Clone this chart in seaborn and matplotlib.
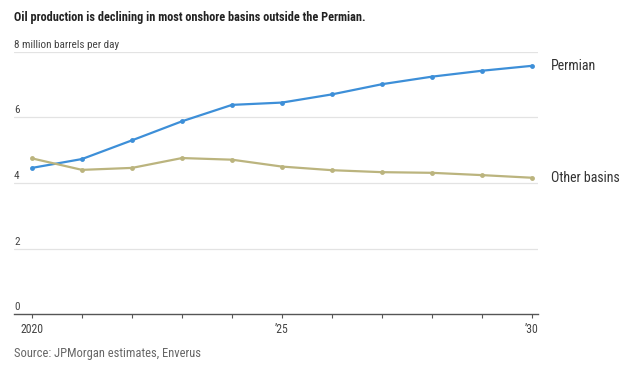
import pandas as pd
import matplotlib.pyplot as plt
import matplotlib.transforms as mtransforms
import seaborn as sns

years = list(range(2020, 2031))
permian = [4.46, 4.73, 5.30, 5.88, 6.38, 6.45, 6.70, 7.01, 7.24, 7.42, 7.57]
other_basins = [4.75, 4.40, 4.46, 4.76, 4.71, 4.50, 4.39, 4.33, 4.31, 4.24, 4.16]
series_names = ['Permian', 'Other basins']
y_ticks = [0, 2, 4, 6, 8]
y_labels = ['0', '2', '4', '6', '8 million barrels per day']
x_ticks = [2020, 2025, 2030]
x_labels = ['2020', '\u201925', '\u201930']

colors = {'Permian': '#3d8fd8', 'Other basins': '#bbb47e'}

df = pd.DataFrame({
    'year': years * 2,
    'value': permian + other_basins,
    'series': [series_names[0]] * len(years) + [series_names[1]] * len(years),
})

sns.set_style('white')
plt.rcParams['font.family'] = ['Roboto Condensed', 'Liberation Sans', 'DejaVu Sans']

fig = plt.figure(figsize=(6.4, 3.69), dpi=100)
ax = fig.add_axes([14 / 640, 1 - 314.3 / 369, (538 - 14) / 640, (314.3 - 51.7) / 369])

sns.lineplot(data=df, x='year', y='value', hue='series', palette=colors,
             marker='o', markersize=3.5, markeredgewidth=0, linewidth=1.6,
             legend=False, ax=ax, zorder=3)

ax.set_xlim(2019.64, 2030.12)
ax.set_ylim(0, 8)
ax.set_xlabel('')
ax.set_ylabel('')

# gridlines drawn by hand so labels can sit on top of them
for v in y_ticks[1:]:
    ax.axhline(v, color='#e3e3e3', linewidth=0.9, zorder=1)
ax.set_yticks([])

trans = mtransforms.blended_transform_factory(ax.transAxes, ax.transData)
for v, lab in zip(y_ticks, y_labels):
    ax.text(0, v + 0.06, lab, transform=trans, ha='left', va='bottom',
            fontsize=8, color='#444444')

for s in ['top', 'right', 'left']:
    ax.spines[s].set_visible(False)
ax.spines['bottom'].set_color('#555555')
ax.spines['bottom'].set_linewidth(1)

ax.set_xticks(years, minor=True)
ax.set_xticks(x_ticks)
ax.set_xticklabels(x_labels)
ax.tick_params(axis='x', which='both', direction='out', length=3, width=0.8,
               color='#555555', labelsize=8.5, labelcolor='#444444', pad=3, bottom=True)

# end labels
ax.text(2030.38, permian[-1], series_names[0], ha='left', va='center', fontsize=10, color='#333333', clip_on=False)
ax.text(2030.38, other_basins[-1], series_names[1], ha='left', va='center', fontsize=10, color='#333333', clip_on=False)

fig.text(14 / 640, 1 - 17 / 369, 'Oil production is declining in most onshore basins outside the Permian.',
         ha='left', va='center', fontsize=8.8, fontweight='bold', color='#222222')
fig.text(14 / 640, 1 - 353 / 369, 'Source: JPMorgan estimates, Enverus',
         ha='left', va='center', fontsize=9, color='#666666')

fig.savefig('out.png', dpi=100)
